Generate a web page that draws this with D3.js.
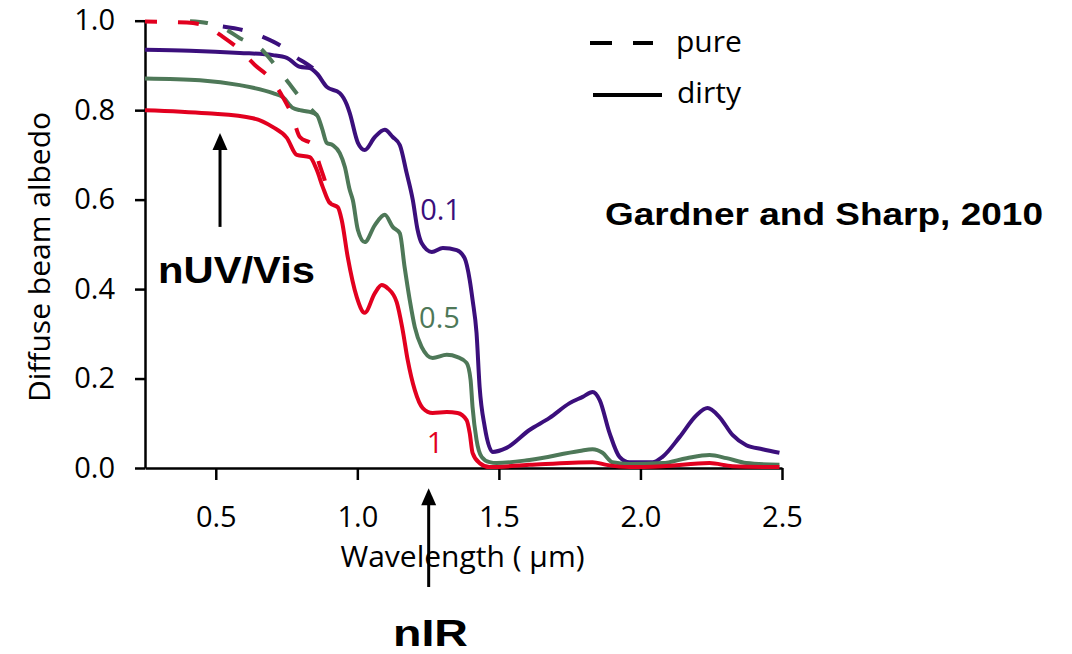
<!DOCTYPE html>
<html>
<head>
<meta charset="utf-8">
<script src="https://cdn.jsdelivr.net/npm/d3@7"></script>
<style>
  body { margin: 0; background: #fff; }
  svg { display: block; }
  .axis text { font-family: "Open Sans", sans-serif; font-size: 29px; fill: #000; }
  .axis path, .axis line { stroke: #000; stroke-width: 2.5px; }
</style>
</head>
<body>
<svg id="chart" width="1072" height="654"></svg>
<script>
// Diffuse beam albedo of snow vs wavelength, for three grain sizes,
// pure snow (dashed) and snow with soot (solid).

// grain size 0.1 — dirty snow
const wl01Dirty  = [0.250, 0.409, 0.585, 0.702, 0.751, 0.797, 0.832, 0.857, 0.892, 0.938, 0.963, 0.973, 1.002, 1.026, 1.062, 1.097, 1.125, 1.150, 1.174, 1.196, 1.213, 1.227, 1.263, 1.302, 1.351, 1.379, 1.397, 1.407, 1.421, 1.432, 1.450, 1.478, 1.527, 1.608, 1.679, 1.750, 1.796, 1.831, 1.856, 1.891, 1.926, 1.961, 2.043, 2.078, 2.138, 2.198, 2.237, 2.279, 2.325, 2.374, 2.431, 2.491];
const alb01Dirty = [0.935, 0.933, 0.928, 0.923, 0.917, 0.897, 0.894, 0.882, 0.852, 0.838, 0.812, 0.794, 0.727, 0.711, 0.740, 0.756, 0.740, 0.722, 0.660, 0.599, 0.532, 0.503, 0.483, 0.492, 0.487, 0.469, 0.420, 0.376, 0.302, 0.181, 0.092, 0.036, 0.045, 0.085, 0.112, 0.145, 0.159, 0.170, 0.152, 0.078, 0.025, 0.013, 0.013, 0.025, 0.069, 0.118, 0.134, 0.114, 0.074, 0.051, 0.042, 0.034];

// grain size 0.5 — dirty snow
const wl05Dirty  = [0.250, 0.444, 0.585, 0.702, 0.737, 0.772, 0.797, 0.832, 0.857, 0.875, 0.892, 0.913, 0.938, 0.956, 0.973, 0.984, 1.002, 1.026, 1.062, 1.097, 1.125, 1.150, 1.167, 1.185, 1.203, 1.227, 1.266, 1.316, 1.354, 1.386, 1.400, 1.407, 1.421, 1.439, 1.467, 1.492, 1.608, 1.785, 1.831, 1.866, 1.901, 1.961, 2.078, 2.163, 2.244, 2.304, 2.374, 2.491];
const alb05Dirty = [0.871, 0.867, 0.856, 0.838, 0.829, 0.805, 0.800, 0.796, 0.789, 0.760, 0.727, 0.722, 0.704, 0.673, 0.622, 0.599, 0.532, 0.505, 0.543, 0.566, 0.539, 0.525, 0.449, 0.376, 0.315, 0.271, 0.246, 0.253, 0.248, 0.235, 0.197, 0.136, 0.063, 0.025, 0.013, 0.011, 0.018, 0.038, 0.042, 0.034, 0.013, 0.009, 0.011, 0.022, 0.029, 0.022, 0.011, 0.007];

// grain size 1 — dirty snow
const wl1Dirty  = [0.250, 0.469, 0.631, 0.702, 0.751, 0.786, 0.832, 0.857, 0.878, 0.903, 0.931, 0.945, 0.966, 0.998, 1.026, 1.062, 1.086, 1.107, 1.139, 1.160, 1.178, 1.203, 1.231, 1.266, 1.316, 1.354, 1.386, 1.397, 1.407, 1.432, 1.467, 1.608, 1.831, 1.880, 1.961, 2.078, 2.244, 2.325, 2.491];
const alb1Dirty = [0.800, 0.793, 0.782, 0.762, 0.738, 0.700, 0.695, 0.666, 0.628, 0.592, 0.583, 0.554, 0.472, 0.382, 0.347, 0.391, 0.409, 0.402, 0.371, 0.309, 0.241, 0.174, 0.134, 0.123, 0.125, 0.123, 0.107, 0.078, 0.034, 0.011, 0.002, 0.007, 0.013, 0.007, 0.002, 0.004, 0.011, 0.004, 0.002];

// pure snow, short-wave part (identical to dirty snow beyond the join)
const wl01Pure  = [0.525, 0.596, 0.666, 0.737, 0.786, 0.815, 0.843];
const alb01Pure = [0.987, 0.979, 0.964, 0.941, 0.917, 0.906, 0.894];
const wl05Pure  = [0.409, 0.469, 0.525, 0.585, 0.663, 0.709, 0.755, 0.797, 0.832, 0.857];
const alb05Pure = [0.999, 0.995, 0.984, 0.961, 0.935, 0.901, 0.863, 0.829, 0.805, 0.789];
const wl1Pure   = [0.250, 0.398, 0.469, 0.525, 0.585, 0.638, 0.691, 0.737, 0.769, 0.797, 0.843, 0.867, 0.892, 0.903];
const alb1Pure  = [0.998, 0.996, 0.987, 0.964, 0.935, 0.901, 0.872, 0.829, 0.789, 0.740, 0.722, 0.677, 0.626, 0.592];

const xTicks = [0.5, 1.0, 1.5, 2.0, 2.5];
const yTicks = [0.0, 0.2, 0.4, 0.6, 0.8, 1.0];

const PURPLE = "#3b0f7c", GREEN = "#4e7858", RED = "#e2001f";

const svg = d3.select("#chart");
const x = d3.scaleLinear().domain([0.25, 2.5]).range([145, 782]);
const y = d3.scaleLinear().domain([0, 1]).range([468, 20.7]);

const zip = (a, b) => a.map((d, i) => [d, b[i]]);
const line = d3.line().x(d => x(d[0])).y(d => y(d[1])).curve(d3.curveMonotoneX);

// axes
svg.append("g").attr("class", "axis")
  .attr("transform", `translate(${x.range()[0]},0)`)
  .call(d3.axisLeft(y).tickValues(yTicks).tickFormat(d3.format(".1f"))
        .tickSize(10).tickSizeOuter(0).tickPadding(20));

svg.append("g").attr("class", "axis")
  .attr("transform", `translate(0,${y(0)})`)
  .call(d3.axisBottom(x).tickValues(xTicks).tickFormat(d3.format(".1f"))
        .tickSize(12).tickSizeOuter(0).tickPadding(26));

svg.append("text")
  .attr("x", (x.range()[0] + x.range()[1]) / 2 - 1).attr("y", 567)
  .attr("text-anchor", "middle")
  .style("font-family", '"Open Sans", sans-serif').style("font-size", "30px")
  .text("Wavelength ( \u03bcm)");

svg.append("text")
  .attr("transform", "translate(50,257) rotate(-90)")
  .attr("text-anchor", "middle")
  .style("font-family", '"Open Sans", sans-serif').style("font-size", "30px")
  .text("Diffuse beam albedo");

// curves
const curves = [
  { w: wl01Dirty, a: alb01Dirty, c: PURPLE, dash: null },
  { w: wl05Dirty, a: alb05Dirty, c: GREEN,  dash: null },
  { w: wl1Dirty,  a: alb1Dirty,  c: RED,    dash: null },
  { w: wl01Pure,  a: alb01Pure,  c: PURPLE, dash: "20,21" },
  { w: wl05Pure,  a: alb05Pure,  c: GREEN,  dash: "18,21" },
  { w: wl1Pure,   a: alb1Pure,   c: RED,    dash: "21,21", off: 9 }
];
svg.append("g").selectAll("path").data(curves).join("path")
  .attr("d", d => line(zip(d.w, d.a)))
  .attr("fill", "none")
  .attr("stroke", d => d.c)
  .attr("stroke-width", 4)
  .attr("stroke-linejoin", "round")
  .attr("stroke-dasharray", d => d.dash)
  .attr("stroke-dashoffset", d => d.off || 0);

// grain size labels
const curveLabels = [
  { t: "0.1", wl: 1.222, v: 0.555, c: PURPLE },
  { t: "0.5", wl: 1.218, v: 0.313, c: GREEN },
  { t: "1",   wl: 1.245, v: 0.033, c: RED }
];
svg.append("g").selectAll("text").data(curveLabels).join("text")
  .attr("x", d => x(d.wl)).attr("y", d => y(d.v))
  .attr("fill", d => d.c)
  .style("font-family", '"Open Sans", sans-serif').style("font-size", "29px")
  .text(d => d.t);

// legend
const legend = svg.append("g");
legend.append("line").attr("x1", 590).attr("x2", 653).attr("y1", 43).attr("y2", 43)
  .attr("stroke", "#000").attr("stroke-width", 4).attr("stroke-dasharray", "22,21");
legend.append("line").attr("x1", 593).attr("x2", 662).attr("y1", 95).attr("y2", 95)
  .attr("stroke", "#000").attr("stroke-width", 4);
legend.append("text").attr("x", 676).attr("y", 52).text("pure")
  .style("font-family", '"Open Sans", sans-serif').style("font-size", "30px");
legend.append("text").attr("x", 677).attr("y", 103).text("dirty")
  .style("font-family", '"Open Sans", sans-serif').style("font-size", "30px");

// spectral region arrows
function arrow(wl, v0, v1) {
  const X = x(wl), Y0 = y(v0), Y1 = y(v1);
  svg.append("line").attr("x1", X).attr("x2", X).attr("y1", Y0).attr("y2", Y1 + 12)
    .attr("stroke", "#000").attr("stroke-width", 3);
  svg.append("path")
    .attr("d", `M${X},${Y1} L${X - 7.5},${Y1 + 17} L${X + 7.5},${Y1 + 17} Z`)
    .attr("fill", "#000");
}
arrow(0.515, 0.539, 0.749);
arrow(1.252, -0.266, -0.045);

const boldText = (t, px, py, size, len) =>
  svg.append("text").attr("x", px).attr("y", py)
    .attr("textLength", len).attr("lengthAdjust", "spacingAndGlyphs")
    .style("font-family", '"Liberation Sans", Arial, sans-serif')
    .style("font-weight", "bold").style("font-size", size + "px")
    .text(t);

boldText("nUV/Vis", 158, 283, 37, 157);
boldText("nIR", 393, 646, 36, 75);
boldText("Gardner and Sharp, 2010", 605, 225, 31, 438);
</script>
</body>
</html>
